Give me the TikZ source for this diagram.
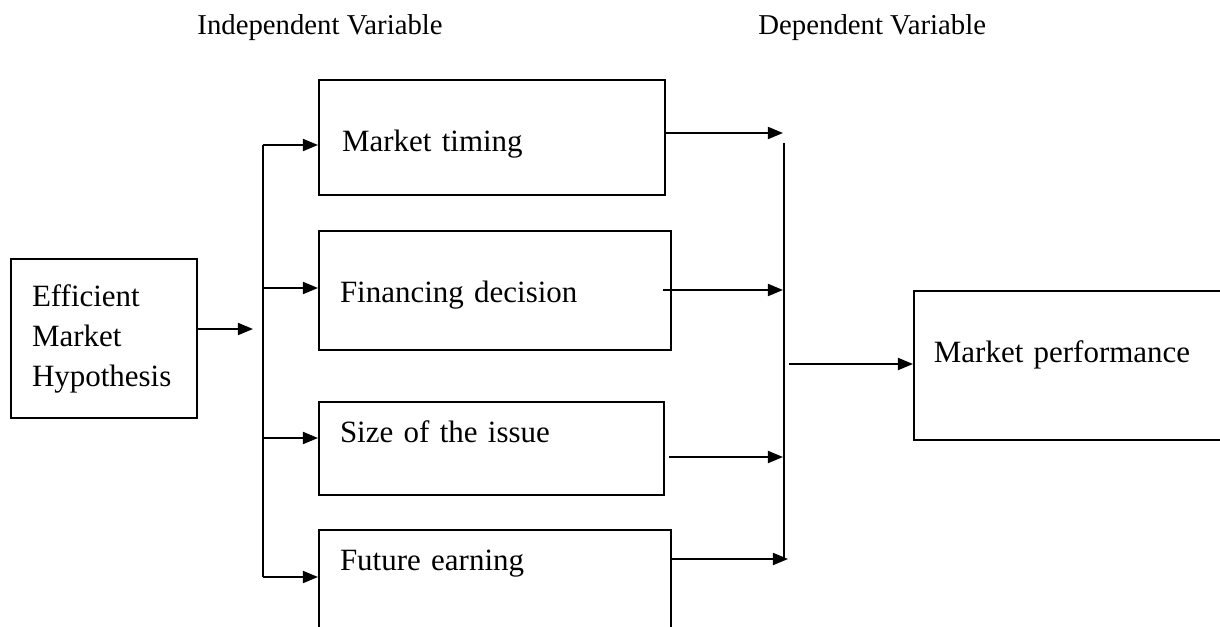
\documentclass[tikz,border=0pt]{standalone}
\usepackage{fontspec}
\setmainfont{Liberation Serif}
\usepackage{tikz}
\usetikzlibrary{positioning, arrows.meta}

\begin{document}
\begin{tikzpicture}[x=0.452pt, y=-0.452pt,
    box/.style={draw, line width=0.9pt, rectangle, align=left, anchor=north west,
        inner ysep=0pt, font=\fontsize{14pt}{18.1pt}\selectfont},
    head/.style={anchor=base west, inner sep=0pt, font=\fontsize{13pt}{15pt}\selectfont},
    arr/.style={line width=0.9pt, -{Triangle[length=6.8pt, width=5.4pt]}}]
    \clip (0,0) rectangle (1220,626);
    % headings
    \node[head] (iv) at (197,35) {Independent Variable};
    \node[head] (dv) at (758,35) {Dependent Variable};
    % boxes
    \node[box, text width=65.1pt, inner xsep=9.5pt, minimum height=71.9pt] (emh) at (10,258) {Efficient\\Market\\Hypothesis};
    \node[box, text width=135.6pt, inner xsep=10.4pt, text height=32.5pt, text depth=19.4pt] (mt) at (318,79) {Market timing};
    \node[box, text width=140.1pt, inner xsep=9.5pt, text height=32.5pt, text depth=21.2pt] (fd) at (318,230) {Financing decision};
    \node[box, text width=137.0pt, inner xsep=9.5pt, text height=18.5pt, text depth=23.5pt] (si) at (318,401) {Size of the issue};
    \node[box, text width=140.1pt, inner xsep=9.5pt, text height=18.5pt, text depth=40.7pt] (fe) at (318,529) {Future earning};
    \node[box, text width=131.1pt, inner xsep=9.0pt, text height=32.5pt, text depth=34.8pt] (mp) at (913,290) {Market performance};
    % left branching
    \coordinate (in) at (253,329);
    \coordinate (bt) at (263,145);
    \coordinate (bb) at (263,577);
    \draw[arr] (emh.east |- in) -- (in);
    \draw[line width=0.9pt] (bt) -- (bb);
    \draw[arr] (bt) -- (mt.west |- bt);
    \draw[arr] (263,288) -- (fd.west |- 0,288);
    \draw[arr] (263,438) -- (si.west |- 0,438);
    \draw[arr] (bb) -- (fe.west |- bb);
    % right collecting
    \coordinate (ct) at (784,143);
    \coordinate (cb) at (784,558);
    \coordinate (out) at (789,364);
    \draw[line width=0.9pt] (ct) -- (cb);
    \draw[arr] (mt.east |- 0,133) -- (783,133);
    \draw[arr] (663,290) -- (783,290);
    \draw[arr] (669,457) -- (783,457);
    \draw[arr] (fe.east |- 0,559) -- (788,559);
    \draw[arr] (out) -- (mp.west |- out);
\end{tikzpicture}
\end{document}
